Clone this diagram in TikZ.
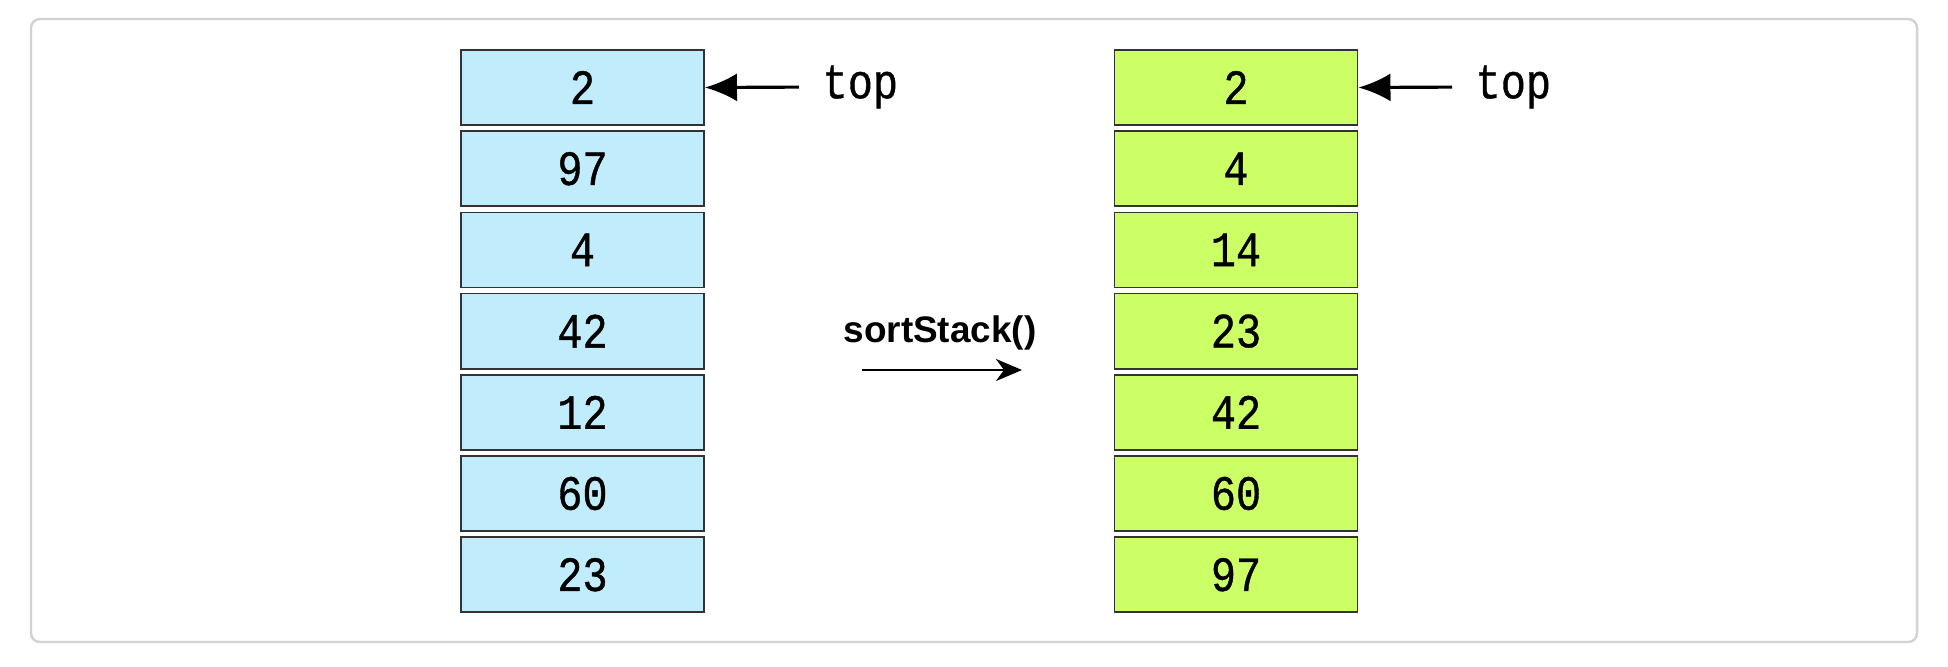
\documentclass[tikz,border=0pt]{standalone}
\usepackage{fontspec}
\setmainfont{Liberation Sans}
\newfontfamily\cellfont[FakeStretch=0.85,FakeBold=0.8]{Liberation Mono}
\usetikzlibrary{arrows.meta}
\definecolor{stackblue}{RGB}{192,236,252}
\definecolor{stackgreen}{RGB}{204,255,102}
\definecolor{framegray}{RGB}{210,210,214}
\begin{document}
\begin{tikzpicture}
        [
          x=0.01cm, y=-0.01cm,
          cell/.style={draw=black!80, line width=0.5pt, minimum width=2.43cm,
            minimum height=0.75cm, inner sep=0pt, font=\cellfont\fontsize{14}{16}\selectfont},
          toplabel/.style={anchor=west, inner sep=0pt, font=\cellfont\fontsize{14}{16}\selectfont},
          pointer/.style={-{Latex[length=3.2mm,width=2.8mm]}, line width=0.9pt}
        ]
        \useasboundingbox (0,0) rectangle (1948,666);
        % frame
        \draw[framegray, line width=0.7pt, rounded corners=2.5pt] (31,19) rectangle (1917,642);
        % left stack
        \foreach \v [count=\i] in {2,97,4,42,12,60,23} {
            \node [cell, fill=stackblue] (l\i) at (582.5,{87.5+81.2*(\i-1)}) {\v};
        }
        % right stack
        \foreach \v [count=\i] in {2,4,14,23,42,60,97} {
            \node [cell, fill=stackgreen] (r\i) at (1236,{87.5+81.2*(\i-1)}) {\v};
        }
        % top pointers
        \node [toplabel] (topl) at (822,87) {top};
        \node [toplabel] (topr) at (1475,87) {top};
        \draw [pointer, shorten <=0.23cm] (topl.west) -- (l1.east);
        \draw [pointer, shorten <=0.23cm] (topr.west) -- (r1.east);
        % operation
        \node [font=\bfseries\fontsize{10.5}{12}\selectfont] (op) at (940,333) {sortStack()};
        \coordinate (opa) at (862,370);
        \coordinate (opb) at (1022,370);
        \draw [-{Stealth[length=2.6mm,width=2.2mm,inset=0.8mm]}, line width=0.6pt] (opa) -- (opb);
      \end{tikzpicture}
\end{document}
